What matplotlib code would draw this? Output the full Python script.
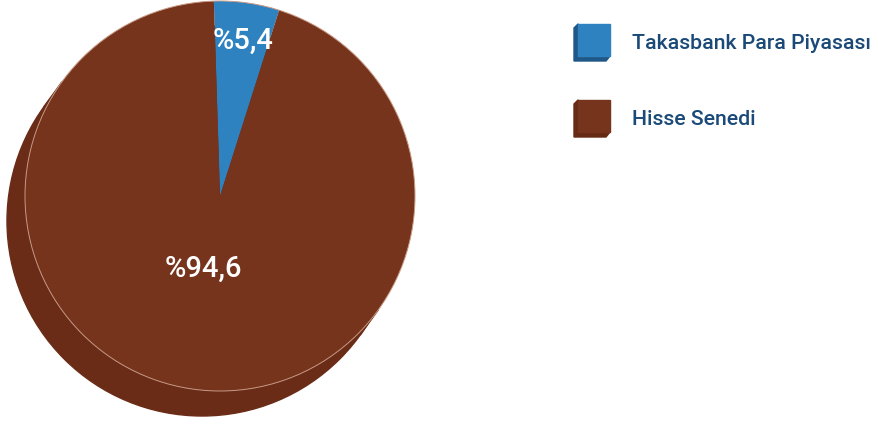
import matplotlib.pyplot as plt
from matplotlib.patches import Circle, Polygon, Rectangle
import numpy as np

# pie data
labels = ["Takasbank Para Piyasası", "Hisse Senedi"]
shares = [5.4, 94.6]
label_texts = ["%5,4", "%94,6"]
colors = ["#2F82C0", "#76341D"]
side_colors = ["#1F5886", "#662A15"]
text_color = "#1B4A78"

W, H = 879, 425
fig = plt.figure(figsize=(W / 100, H / 100), dpi=100)
ax = fig.add_axes([0, 0, 1, 1])

cx, cy, r = 220, 229, 195
dx, dy = -18, -25

# extruded body of the pie
ax.add_patch(Circle((cx + dx, cy + dy), r, color="#6A2C17", zorder=1))
d = np.array([dx, dy]) / np.hypot(dx, dy)
n = np.array([-d[1], d[0]]) * r
quad = [(cx + n[0], cy + n[1]), (cx - n[0], cy - n[1]),
        (cx + dx - n[0], cy + dy - n[1]), (cx + dx + n[0], cy + dy + n[1])]
ax.add_patch(Polygon(quad, color="#6A2C17", zorder=1))

wedges, _ = ax.pie(shares, colors=colors, startangle=91.8, counterclock=False,
                   center=(cx, cy), radius=r, frame=True,
                   wedgeprops=dict(linewidth=0))
for w in wedges:
    w.set_zorder(2)
ax.add_patch(Circle((cx, cy), r, fill=False, ec="#C79A85", lw=0.7, zorder=3))
ax.set_xlim(0, W)
ax.set_ylim(0, H)
ax.set_aspect("equal")
ax.axis("off")

# value labels
ax.text(243, H - 41, label_texts[0], color="white", fontsize=21, family="Roboto",
        fontweight="medium", ha="center", va="center", zorder=4)
ax.text(203, H - 269, label_texts[1], color="white", fontsize=21, family="Roboto",
        fontweight="medium", ha="center", va="center", zorder=4)

# legend with small 3d boxes
for i, lab in enumerate(labels):
    top = 25 + i * 76
    x0, y0, s = 578, H - top - 31, 32
    side = [(x0, y0 + s), (x0 - 4, y0 + s - 4), (x0 - 4, y0 - 5),
            (x0 + s - 4, y0 - 5), (x0 + s, y0)]
    ax.add_patch(Polygon(side, color=side_colors[i], zorder=2))
    ax.add_patch(Rectangle((x0, y0), s, s, color=colors[i], zorder=3))
    ax.text(632, y0 + s / 2 - 3, lab, color=text_color, fontsize=15.3,
            family="Roboto", fontweight="medium", ha="left", va="center",
            zorder=4)

fig.savefig("out.png", dpi=100)
